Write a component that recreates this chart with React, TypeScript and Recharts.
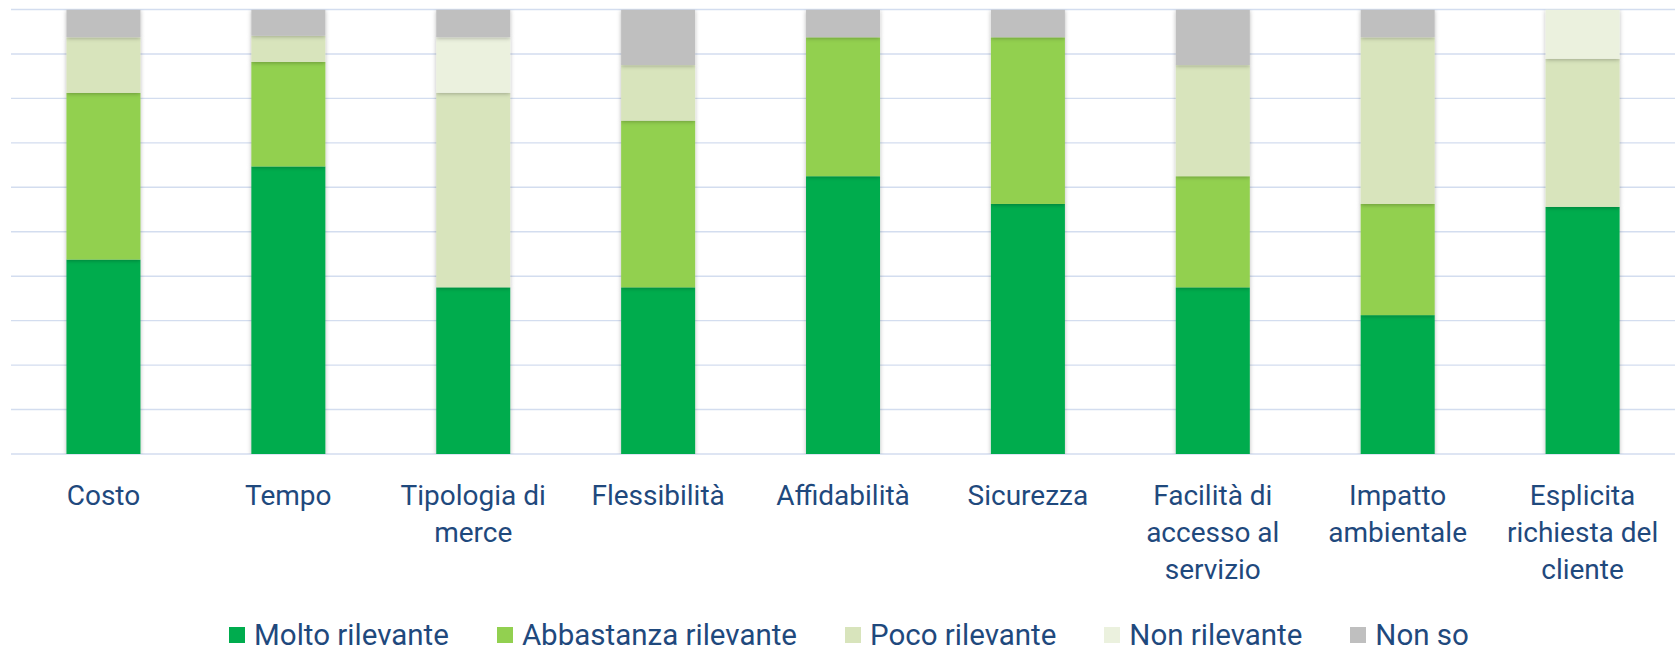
import { Bar, BarChart, CartesianGrid, Legend, XAxis, YAxis } from "recharts";

const FONT = "Roboto, 'Noto Sans', sans-serif";
const TEXT_COLOR = "#1F497D";
const LABEL_SIZE = 28;
const LEGEND_SIZE = 29.5;

// Quote (%) di risposte per fattore
const categories = [
  "Costo",
  "Tempo",
  "Tipologia di merce",
  "Flessibilità",
  "Affidabilità",
  "Sicurezza",
  "Facilità di accesso al servizio",
  "Impatto ambientale",
  "Esplicita richiesta del cliente",
];
const moltoRilevante = [43.75, 64.7, 37.5, 37.5, 62.5, 56.25, 37.5, 31.25, 55.6];
const abbastanzaRilevante = [37.5, 23.5, 0, 37.5, 31.25, 37.5, 25, 25, 0];
const pocoRilevante = [12.5, 5.9, 43.75, 12.5, 0, 0, 25, 37.5, 33.3];
const nonRilevante = [0, 0, 12.5, 0, 0, 0, 0, 0, 11.1];
const nonSo = [6.25, 5.9, 6.25, 12.5, 6.25, 6.25, 12.5, 6.25, 0];

const seriesNames = ["Molto rilevante", "Abbastanza rilevante", "Poco rilevante", "Non rilevante", "Non so"];
const seriesKeys = ["molto", "abbastanza", "poco", "non", "nonSo"];
const seriesColors = ["#00AC4E", "#92D050", "#D8E4BC", "#EBF1DE", "#BFBFBF"];
const yTicks = [0, 10, 20, 30, 40, 50, 60, 70, 80, 90, 100];

const data = categories.map((name, i) => ({
  name,
  molto: moltoRilevante[i],
  abbastanza: abbastanzaRilevante[i],
  poco: pocoRilevante[i],
  non: nonRilevante[i],
  nonSo: nonSo[i],
}));

let ctx: CanvasRenderingContext2D | null = null;
function textWidth(s: string) {
  if (!ctx) ctx = document.createElement("canvas").getContext("2d");
  if (!ctx) return s.length * LABEL_SIZE * 0.5;
  ctx.font = `${LABEL_SIZE}px Roboto`;
  return ctx.measureText(s).width;
}

// a capo come in Excel, sulla larghezza della categoria
function wrapLabel(label: string, maxWidth: number) {
  const lines: string[] = [];
  let cur = "";
  for (const w of label.split(" ")) {
    const next = cur ? cur + " " + w : w;
    if (cur && textWidth(next) > maxWidth) {
      lines.push(cur);
      cur = w;
    } else {
      cur = next;
    }
  }
  if (cur) lines.push(cur);
  return lines;
}

function CategoryTick({ x, y, payload }: any) {
  const lines = wrapLabel(String(payload.value), 165);
  return (
    <text x={x} y={y + 31} textAnchor="middle" fill={TEXT_COLOR} fontFamily={FONT} fontSize={LABEL_SIZE}>
      {lines.map((line, i) => (
        <tspan key={i} x={x} dy={i === 0 ? "0.71em" : 37}>
          {line}
        </tspan>
      ))}
    </text>
  );
}

function LegendContent() {
  return (
    <div
      style={{
        display: "flex",
        justifyContent: "center",
        gap: 48,
        height: 32,
        paddingTop: 4,
        boxSizing: "border-box",
        lineHeight: "28px",
        fontFamily: FONT,
        fontSize: LEGEND_SIZE,
        color: TEXT_COLOR,
        paddingLeft: 12,
      }}
    >
      {seriesNames.map((name, i) => (
        <div key={name} style={{ display: "flex", alignItems: "center", whiteSpace: "nowrap" }}>
          <span
            style={{ display: "inline-block", width: 16, height: 16, background: seriesColors[i], marginRight: 9 }}
          />
          {name}
        </div>
      ))}
    </div>
  );
}

function SegmentShape(props: any) {
  const { x, y, width, height, fill } = props;
  if (!height || height <= 0) return <g />;
  return <rect x={x} y={y} width={width} height={height} fill={fill} filter="url(#barShadow)" />;
}

export default function App() {
  return (
    <div style={{ position: "absolute", left: 0, top: 0, background: "#fff" }}>
      <BarChart
        width={1675}
        height={649}
        data={data}
        margin={{ top: 9.5, right: 0, left: 11, bottom: 0 }}
        barCategoryGap="30%"
      >
        <defs>
          <filter id="barShadow" filterUnits="userSpaceOnUse" x="0" y="0" width="1675" height="649">
            <feDropShadow dx="0" dy="1" stdDeviation="2" floodColor="#000" floodOpacity="0.28" />
          </filter>
        </defs>
        <CartesianGrid vertical={false} stroke="#D3DDEF" strokeWidth={1.4} />
        <XAxis
          dataKey="name"
          height={163}
          interval={0}
          tickLine={false}
          axisLine={false}
          tickSize={0}
          tickMargin={0}
          tick={<CategoryTick />}
        />
        <YAxis hide domain={[0, 100]} ticks={yTicks} allowDataOverflow />
        <Legend verticalAlign="bottom" content={<LegendContent />} />
        {seriesKeys.map((key, i) => (
          <Bar
            key={key}
            dataKey={key}
            name={seriesNames[i]}
            stackId="a"
            fill={seriesColors[i]}
            shape={<SegmentShape />}
            isAnimationActive={false}
          />
        ))}
      </BarChart>
    </div>
  );
}
